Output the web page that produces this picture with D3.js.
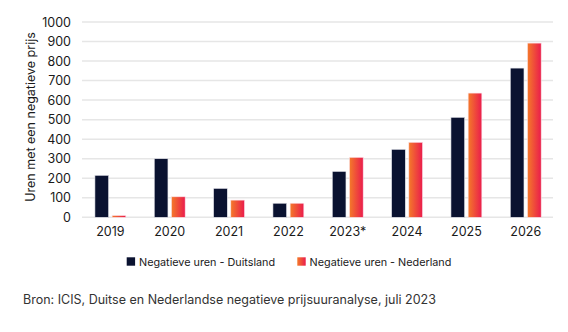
<!DOCTYPE html>
<html><head><meta charset="utf-8">
<script src="https://cdn.jsdelivr.net/npm/d3@7"></script>
<style>body{margin:0;background:#fff;}svg{display:block;font-family:Inter,"Noto Sans",sans-serif;}</style>
</head><body><svg id="c" width="568" height="332"></svg>
<script>
const categories = ["2019","2020","2021","2022","2023*","2024","2025","2026"];
const duitsland = [215, 300, 148, 72, 235, 348, 512, 764];
const nederland = [9, 105, 88, 72, 307, 384, 636, 892];
const yTicks = [0,100,200,300,400,500,600,700,800,900,1000];
const seriesNames = ["Negatieve uren - Duitsland","Negatieve uren - Nederland"];

const svg = d3.select("#c");
const defs = svg.append("defs");
const grad = defs.append("linearGradient").attr("id","og").attr("x1","0").attr("x2","1").attr("y1","0").attr("y2","0");
grad.append("stop").attr("offset","0%").attr("stop-color","#f47a2a");
grad.append("stop").attr("offset","100%").attr("stop-color","#ea1c4c");

const x = d3.scaleBand().domain(categories).range([80.7, 555.4]).padding(0);
const y = d3.scaleLinear().domain([0,1000]).range([217.3, 22]);

// gridlines
svg.append("g").selectAll("line").data(yTicks).join("line")
  .attr("x1",82).attr("x2",553)
  .attr("y1",d=>y(d)).attr("y2",d=>y(d))
  .attr("stroke","#e6e6e6").attr("stroke-width",1.5);

// y axis labels
const yAxis = d3.axisLeft(y).tickValues(yTicks).tickFormat(d3.format("d")).tickSize(0).tickPadding(0);
const gy = svg.append("g").attr("transform","translate(71,0)").call(yAxis);
gy.select(".domain").remove();
gy.selectAll("text").attr("font-size",12.5).attr("fill","#1a1a1a").attr("font-family","Inter,sans-serif");

// x axis labels
const xAxis = d3.axisBottom(x).tickSize(0).tickPadding(0);
const gx = svg.append("g").attr("transform","translate(0,227)").call(xAxis);
gx.select(".domain").remove();
gx.selectAll("text").attr("font-size",12.5).attr("fill","#1a1a1a").attr("font-family","Inter,sans-serif");

const bw = 13.7, gap = 3.5;
const g = svg.append("g");
g.selectAll("rect.de").data(categories).join("rect").attr("class","de")
  .attr("x",d=>x(d)+x.bandwidth()/2-gap/2-bw)
  .attr("width",bw)
  .attr("y",(d,i)=>y(duitsland[i]))
  .attr("height",(d,i)=>y(0)-y(duitsland[i]))
  .attr("fill","#0a1230").attr("stroke","#e8e8ee").attr("stroke-width",0.6);
g.selectAll("rect.nl").data(categories).join("rect").attr("class","nl")
  .attr("x",d=>x(d)+x.bandwidth()/2+gap/2)
  .attr("width",bw)
  .attr("y",(d,i)=>y(nederland[i]))
  .attr("height",(d,i)=>y(0)-y(nederland[i]))
  .attr("fill","url(#og)").attr("stroke","#fbe0e6").attr("stroke-width",0.6);

// y title
svg.append("text").attr("transform","translate(35,117) rotate(-90)")
  .attr("text-anchor","middle").attr("font-size",12.5).attr("fill","#1a1a1a")
  .text("Uren met een negatieve prijs");

// legend
const leg = [{x:126.7, fill:"#0a1230"},{x:297.3, fill:"url(#og)"}];
leg.forEach((l,i)=>{
  svg.append("rect").attr("x",l.x).attr("y",257.3).attr("width",8.4).attr("height",8.4).attr("fill",l.fill);
  svg.append("text").attr("x",l.x+12.3).attr("y",265.5).attr("font-size",10.8).attr("fill","#1a1a1a").text(seriesNames[i]);
});

// source
svg.append("text").attr("x",23).attr("y",304).attr("font-size",12.5).attr("fill","#333")
  .text("Bron: ICIS, Duitse en Nederlandse negatieve prijsuuranalyse, juli 2023");
</script></body></html>
